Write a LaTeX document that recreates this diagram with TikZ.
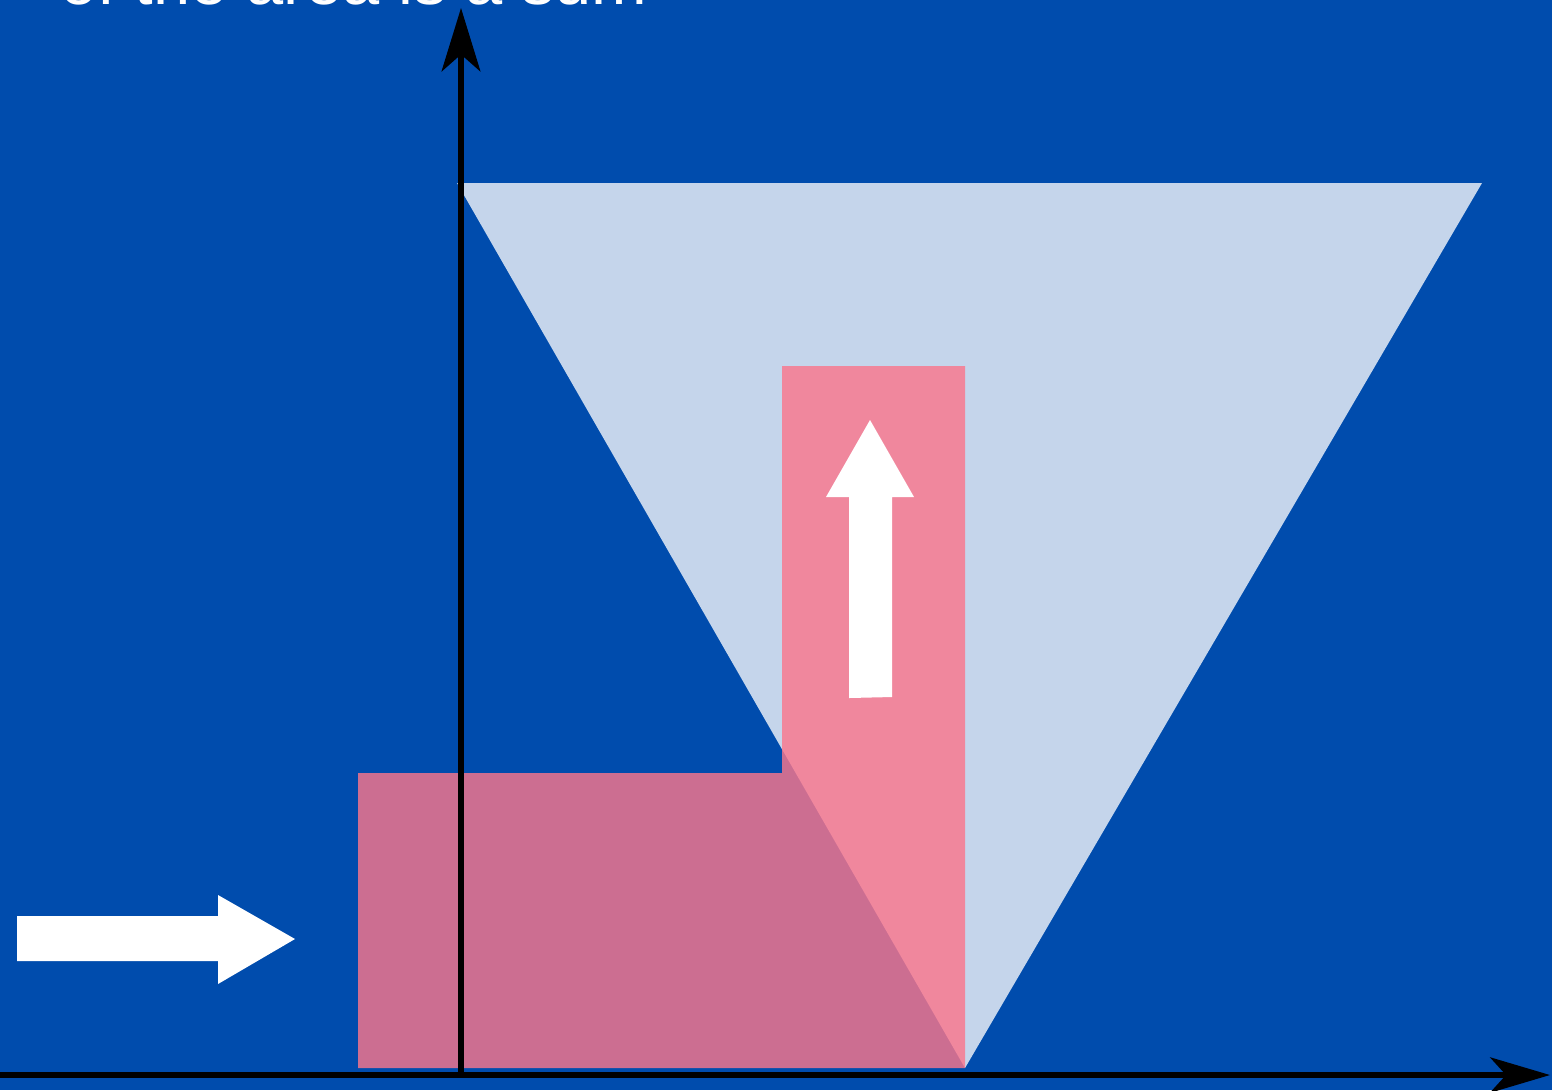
\documentclass[tikz,border=0pt]{standalone}
\usepackage{fontspec}
\setsansfont{Liberation Sans}
\usetikzlibrary{arrows.meta}
\definecolor{bgblue}{RGB}{0,76,173}
\definecolor{lightwedge}{RGB}{197,213,235}
\definecolor{boxpink}{RGB}{250,118,140}
\begin{document}
\begin{tikzpicture}[x=0.01cm,y=-0.01cm,>=Stealth,
  axis/.style={line width=1.7pt,black},
  blockarrow/.style={fill=white,draw=none}]
\clip (0,0) rectangle (1552,1090);
\fill[bgblue] (0,0) rectangle (1552,1090);
% caption, cut off at the top
\node[anchor=base west,text=white,inner sep=0pt,font=\sffamily\fontsize{19}{22}\selectfont] (caption) at (60,4) {of the area is a sum};
% wedge and the box
\fill[lightwedge] (457,183) -- (1482,183) -- (965,1068) -- cycle;
\fill[boxpink,fill opacity=0.82] (358,773) -- (782,773) -- (782,366) -- (965,366) -- (965,1068) -- (358,1068) -- cycle;
% moving directions
\fill[blockarrow] (17,916) -- (218,916) -- (218,895) -- (295,939) -- (218,984) -- (218,961) -- (17,961) -- cycle;
\fill[blockarrow] (849,698) -- (849,497) -- (826,497) -- (870,420) -- (914,497) -- (892,497) -- (892,697) -- cycle;
% axes
\coordinate (origin) at (461,1075);
\coordinate (xleft) at (0,1075);
\coordinate (xtip) at (1550,1075);
\coordinate (ytip) at (461,8);
\draw[axis,-{Stealth[length=17pt,width=10pt,inset=4.5pt]}] (xleft) -- (xtip);
\draw[axis,-{Stealth[length=18pt,width=11pt,inset=4.8pt]}] (origin) -- (ytip);
\end{tikzpicture}
\end{document}
